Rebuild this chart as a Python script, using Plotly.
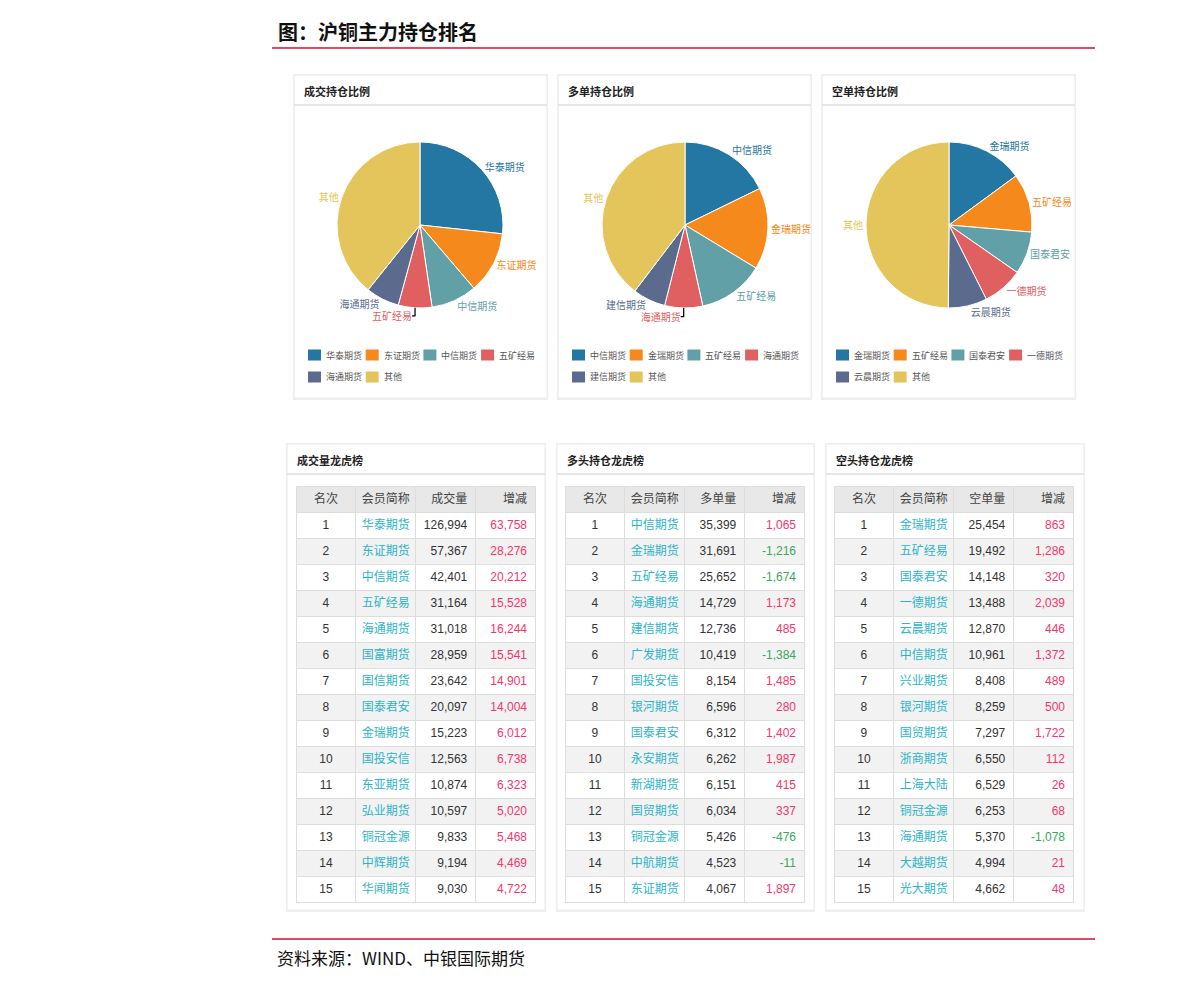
import plotly.graph_objects as go

W, H = 1191, 987


def X(p):
    return p / W


def Y(p):
    return 1 - p / H


# ---------------- data ----------------
pie_titles = ["成交持仓比例", "多单持仓比例", "空单持仓比例"]
pie1_labels = ["华泰期货", "东证期货", "中信期货", "五矿经易", "海通期货", "其他"]
pie1_values = [126994, 57367, 42401, 31164, 31018, 186700]
pie2_labels = ["中信期货", "金瑞期货", "五矿经易", "海通期货", "建信期货", "其他"]
pie2_values = [35399, 31691, 25652, 14729, 12736, 79000]
pie3_labels = ["金瑞期货", "五矿经易", "国泰君安", "一德期货", "云晨期货", "其他"]
pie3_values = [25454, 19492, 14148, 13488, 12870, 85000]

table_titles = ["成交量龙虎榜", "多头持仓龙虎榜", "空头持仓龙虎榜"]
table_qty_labels = ["成交量", "多单量", "空单量"]
ranks = list(range(1, 16))

vol_names = ["华泰期货", "东证期货", "中信期货", "五矿经易", "海通期货", "国富期货", "国信期货", "国泰君安",
             "金瑞期货", "国投安信", "东亚期货", "弘业期货", "铜冠金源", "中辉期货", "华闻期货"]
vol_qty = [126994, 57367, 42401, 31164, 31018, 28959, 23642, 20097, 15223, 12563, 10874, 10597, 9833, 9194, 9030]
vol_chg = [63758, 28276, 20212, 15528, 16244, 15541, 14901, 14004, 6012, 6738, 6323, 5020, 5468, 4469, 4722]

long_names = ["中信期货", "金瑞期货", "五矿经易", "海通期货", "建信期货", "广发期货", "国投安信", "银河期货",
              "国泰君安", "永安期货", "新湖期货", "国贸期货", "铜冠金源", "中航期货", "东证期货"]
long_qty = [35399, 31691, 25652, 14729, 12736, 10419, 8154, 6596, 6312, 6262, 6151, 6034, 5426, 4523, 4067]
long_chg = [1065, -1216, -1674, 1173, 485, -1384, 1485, 280, 1402, 1987, 415, 337, -476, -11, 1897]

short_names = ["金瑞期货", "五矿经易", "国泰君安", "一德期货", "云晨期货", "中信期货", "兴业期货", "银河期货",
               "国贸期货", "浙商期货", "上海大陆", "铜冠金源", "海通期货", "大越期货", "光大期货"]
short_qty = [25454, 19492, 14148, 13488, 12870, 10961, 8408, 8259, 7297, 6550, 6529, 6253, 5370, 4994, 4662]
short_chg = [863, 1286, 320, 2039, 446, 1372, 489, 500, 1722, 112, 26, 68, -1078, 21, 48]

# ---------------- styles ----------------
slice_colors = ["#2477a2", "#f5891b", "#62a0a8", "#e06061", "#5b6b8e", "#e3c55b"]
name_color = "#2db4c8"
pos_color = "#f7356a"
neg_color = "#3aa65e"
text_color = "#333333"
grid_color = "#dddddd"
cjk = "Liberation Sans, Noto Sans CJK SC, sans-serif"

fig = go.Figure()
shapes = []
annotations = []


def hline(x0, x1, y, color, width=1):
    shapes.append(dict(type="line", xref="paper", yref="paper", x0=X(x0), x1=X(x1), y0=Y(y), y1=Y(y),
                       line=dict(color=color, width=width), layer="below"))


def card(x0, y0, x1, y1, title, title_y, sep_y):
    # soft shadow
    shapes.append(dict(type="rect", xref="paper", yref="paper", x0=X(x0 - 1), x1=X(x1 + 1), y0=Y(y1 + 2), y1=Y(y0 - 1),
                       line=dict(width=0), fillcolor="rgba(0,0,0,0.06)", layer="below"))
    shapes.append(dict(type="rect", xref="paper", yref="paper", x0=X(x0), x1=X(x1), y0=Y(y1), y1=Y(y0),
                       line=dict(color="#ececec", width=1), fillcolor="white", layer="below"))
    hline(x0, x1, sep_y, "#d0d0d0", 1)
    annotations.append(dict(x=X(x0 + 8), y=Y(title_y), xref="paper", yref="paper", xanchor="left", yanchor="middle",
                            text="<b>" + title + "</b>", showarrow=False,
                            font=dict(size=11, color="#222", family=cjk)))


# header / footer
annotations.append(dict(x=X(276), y=Y(31), xref="paper", yref="paper", xanchor="left", yanchor="middle",
                        text="<b>图：沪铜主力持仓排名</b>", showarrow=False,
                        font=dict(size=20, color="#111", family="Noto Sans CJK SC")))
hline(272, 1095, 48, "#c4122f", 1.5)
hline(272, 1095, 939, "#c4122f", 1.5)
annotations.append(dict(x=X(275), y=Y(957), xref="paper", yref="paper", xanchor="left", yanchor="middle",
                        text="资料来源：WIND、中银国际期货", showarrow=False,
                        font=dict(size=17, color="#111", family="Noto Sans CJK SC")))

# ---------------- pies ----------------
pie_sets = [(pie1_labels, pie1_values), (pie2_labels, pie2_values), (pie3_labels, pie3_values)]
pie_cards = [(294, 547), (558, 811), (822, 1075)]
pie_cx = [420, 685, 949]
pie_cy = 225
R = 83
for k, ((labels, values), (cx0, cx1), cx) in enumerate(zip(pie_sets, pie_cards, pie_cx)):
    card(cx0, 75, cx1, 398, pie_titles[k], 91, 105)
    fig.add_trace(go.Pie(
        labels=labels, values=values, sort=False, direction="clockwise", rotation=0,
        domain=dict(x=[X(cx - R), X(cx + R)], y=[Y(pie_cy + R), Y(pie_cy - R)]),
        marker=dict(colors=slice_colors, line=dict(color="white", width=1)),
        textinfo="label", textposition="outside",
        outsidetextfont=dict(size=10, color=slice_colors, family=cjk),
        showlegend=False, hoverinfo="label+value+percent",
    ))
    # legend (drawn manually so it wraps 4 + 2 like the original)
    for i, lab in enumerate(labels):
        row, col = divmod(i, 4)
        lx = cx0 + 14 + col * 57.7
        ly = 355 + row * 22
        shapes.append(dict(type="rect", xref="paper", yref="paper", x0=X(lx), x1=X(lx + 13), y0=Y(ly + 5.5),
                           y1=Y(ly - 5.5), line=dict(width=0), fillcolor=slice_colors[i], layer="above"))
        annotations.append(dict(x=X(lx + 16), y=Y(ly), xref="paper", yref="paper", xanchor="left", yanchor="middle",
                                text=lab, showarrow=False, font=dict(size=9, color="#555", family=cjk)))

# ---------------- tables ----------------
table_sets = [(vol_names, vol_qty, vol_chg), (long_names, long_qty, long_chg), (short_names, short_qty, short_chg)]
table_cards = [(287, 545), (557, 814), (826, 1084)]
table_x = [(296, 535), (565, 805), (834, 1074)]
n = len(ranks)
row_fill = ["#ffffff" if i % 2 == 0 else "#f2f2f2" for i in range(n)]
for k, ((names, qty, chg), (c0, c1), (t0, t1)) in enumerate(zip(table_sets, table_cards, table_x)):
    card(c0, 444, c1, 910, table_titles[k], 460, 474)
    chg_colors = [pos_color if v >= 0 else neg_color for v in chg]
    fig.add_trace(go.Table(
        domain=dict(x=[X(t0), X(t1)], y=[Y(909), Y(486)]),
        columnwidth=[1, 1, 1, 1],
        header=dict(values=["名次", "会员简称", table_qty_labels[k], "增减"],
                    align=["center", "center", "right", "right"],
                    fill_color="#e8e8e8", line=dict(color=grid_color, width=1), height=26,
                    font=dict(size=12, color="#444", family=cjk)),
        cells=dict(values=[ranks, names, [f"{v:,}" for v in qty], [f"{v:,}" for v in chg]],
                   align=["center", "center", "right", "right"],
                   fill_color=[row_fill] * 4, line=dict(color=grid_color, width=1), height=26,
                   font=dict(size=12, family=cjk,
                             color=[[text_color] * n, [name_color] * n, [text_color] * n, chg_colors])),
    ))

fig.update_layout(
    width=W, height=H, margin=dict(l=0, r=0, t=0, b=0),
    paper_bgcolor="white", plot_bgcolor="white",
    shapes=shapes, annotations=annotations, showlegend=False,
    font=dict(family=cjk),
)

fig.write_html("out.html", config={"displayModeBar": False},
               post_script="document.body.style.margin='0';")
